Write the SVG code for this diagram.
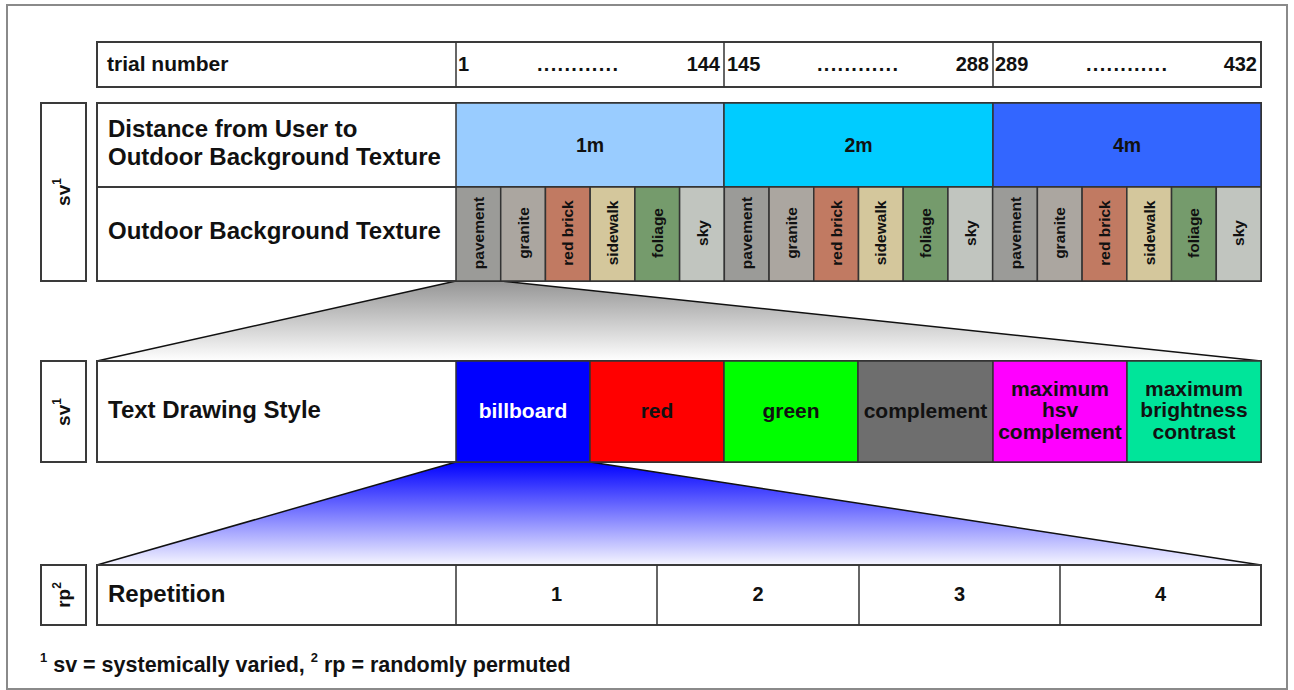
<svg xmlns="http://www.w3.org/2000/svg" width="1294" height="690" viewBox="0 0 1294 690">
<defs>
<linearGradient id="gGray" gradientUnits="userSpaceOnUse" x1="0" y1="281" x2="0" y2="361">
<stop offset="0" stop-color="#959595"/><stop offset="1" stop-color="#ffffff"/>
</linearGradient>
<linearGradient id="gBlue" gradientUnits="userSpaceOnUse" x1="0" y1="462" x2="0" y2="565">
<stop offset="0" stop-color="#0000ff"/><stop offset="1" stop-color="#f6f6ff"/>
</linearGradient>
<style>
text{font-family:"Liberation Sans",Arial,sans-serif;font-weight:bold;fill:#111}
.box{fill:#fff;stroke:#3a3a3a;stroke-width:2}
.cell{stroke:#333;stroke-width:1.5}
.lbl{font-size:24px}
.num{font-size:20px}
.dist{font-size:19.5px;text-anchor:middle}
.tex{font-size:15.5px;text-anchor:middle}
.sty{font-size:21px;text-anchor:middle}
.rep{font-size:20px;text-anchor:middle}
.side{font-size:19px;text-anchor:middle}
.edge{stroke:#111;stroke-width:1.5;fill:none}
</style>
</defs>
<rect x="7" y="5" width="1280" height="684" fill="#fff" stroke="#8a8a8a" stroke-width="2"/>

<g id="connectors">
<polygon points="456,281 501,281 1261,361 97,361" fill="url(#gGray)"/>
<line class="edge" x1="456" y1="281" x2="97" y2="361"/>
<line class="edge" x1="501" y1="281" x2="1261" y2="361"/>
<polygon points="456,462 590,462 1261,565 97,565" fill="url(#gBlue)"/>
<line class="edge" x1="456" y1="462" x2="97" y2="565"/>
<line class="edge" x1="590" y1="462" x2="1261" y2="565"/>
</g>

<g id="trial-row">
<rect class="box" x="97" y="42" width="1164" height="45"/>
<line class="cell" x1="456" y1="42" x2="456" y2="87"/>
<line class="cell" x1="724" y1="42" x2="724" y2="87"/>
<line class="cell" x1="993" y1="42" x2="993" y2="87"/>
<text x="107" y="71" font-size="21">trial number</text>
<text class="num" x="458" y="71">1</text>
<text class="num" x="537" y="71" font-size="18" textLength="81" lengthAdjust="spacing">............</text>
<text class="num" x="720" y="71" text-anchor="end">144</text>
<text class="num" x="727" y="71">145</text>
<text class="num" x="817" y="71" font-size="18" textLength="81" lengthAdjust="spacing">............</text>
<text class="num" x="989" y="71" text-anchor="end">288</text>
<text class="num" x="995" y="71">289</text>
<text class="num" x="1086" y="71" font-size="18" textLength="81" lengthAdjust="spacing">............</text>
<text class="num" x="1257" y="71" text-anchor="end">432</text>
</g>

<g id="sv-1">
<rect class="box" x="41" y="103" width="45" height="178"/>
<text class="side" transform="translate(70,192) rotate(-90)">sv<tspan font-size="12" dy="-9">1</tspan></text>
</g>

<g id="distance-row">
<rect class="box" x="97" y="103" width="1164" height="84"/>
<rect class="cell" x="456" y="103" width="268" height="84" fill="#99ccff"/>
<rect class="cell" x="724" y="103" width="269" height="84" fill="#00ccff"/>
<rect class="cell" x="993" y="103" width="268" height="84" fill="#3366ff"/>
<text class="lbl" x="108" y="137">Distance from User to</text>
<text class="lbl" x="108" y="165">Outdoor Background Texture</text>
<text class="dist" x="590" y="152">1m</text>
<text class="dist" x="858.5" y="152">2m</text>
<text class="dist" x="1127" y="152">4m</text>
</g>

<g id="texture-row">
<rect class="box" x="97" y="187" width="1164" height="94"/>
<text class="lbl" x="108" y="239">Outdoor Background Texture</text>
<g id="tex-1m">
<rect class="cell" x="456" y="187" width="44.72" height="94" fill="#9b9b98"/>
<rect class="cell" x="500.72" y="187" width="44.72" height="94" fill="#aba6a0"/>
<rect class="cell" x="545.44" y="187" width="44.72" height="94" fill="#c17a62"/>
<rect class="cell" x="590.17" y="187" width="44.72" height="94" fill="#d4c79c"/>
<rect class="cell" x="634.89" y="187" width="44.72" height="94" fill="#759b6c"/>
<rect class="cell" x="679.61" y="187" width="44.72" height="94" fill="#c1c5bf"/>
</g>
<g id="tex-2m">
<rect class="cell" x="724.33" y="187" width="44.72" height="94" fill="#9b9b98"/>
<rect class="cell" x="769.06" y="187" width="44.72" height="94" fill="#aba6a0"/>
<rect class="cell" x="813.78" y="187" width="44.72" height="94" fill="#c17a62"/>
<rect class="cell" x="858.5" y="187" width="44.72" height="94" fill="#d4c79c"/>
<rect class="cell" x="903.22" y="187" width="44.72" height="94" fill="#759b6c"/>
<rect class="cell" x="947.94" y="187" width="44.72" height="94" fill="#c1c5bf"/>
</g>
<g id="tex-4m">
<rect class="cell" x="992.67" y="187" width="44.72" height="94" fill="#9b9b98"/>
<rect class="cell" x="1037.39" y="187" width="44.72" height="94" fill="#aba6a0"/>
<rect class="cell" x="1082.11" y="187" width="44.72" height="94" fill="#c17a62"/>
<rect class="cell" x="1126.83" y="187" width="44.72" height="94" fill="#d4c79c"/>
<rect class="cell" x="1171.56" y="187" width="44.72" height="94" fill="#759b6c"/>
<rect class="cell" x="1216.28" y="187" width="44.72" height="94" fill="#c1c5bf"/>
</g>
<text class="tex" transform="translate(483.9,233) rotate(-90)">pavement</text>
<text class="tex" transform="translate(528.6,233) rotate(-90)">granite</text>
<text class="tex" transform="translate(573.3,233) rotate(-90)">red brick</text>
<text class="tex" transform="translate(618.0,233) rotate(-90)">sidewalk</text>
<text class="tex" transform="translate(662.8,233) rotate(-90)">foliage</text>
<text class="tex" transform="translate(707.5,233) rotate(-90)">sky</text>
<text class="tex" transform="translate(752.2,233) rotate(-90)">pavement</text>
<text class="tex" transform="translate(796.9,233) rotate(-90)">granite</text>
<text class="tex" transform="translate(841.6,233) rotate(-90)">red brick</text>
<text class="tex" transform="translate(886.4,233) rotate(-90)">sidewalk</text>
<text class="tex" transform="translate(931.1,233) rotate(-90)">foliage</text>
<text class="tex" transform="translate(975.8,233) rotate(-90)">sky</text>
<text class="tex" transform="translate(1020.5,233) rotate(-90)">pavement</text>
<text class="tex" transform="translate(1065.3,233) rotate(-90)">granite</text>
<text class="tex" transform="translate(1110.0,233) rotate(-90)">red brick</text>
<text class="tex" transform="translate(1154.7,233) rotate(-90)">sidewalk</text>
<text class="tex" transform="translate(1199.4,233) rotate(-90)">foliage</text>
<text class="tex" transform="translate(1244.1,233) rotate(-90)">sky</text>
</g>

<g id="sv-2">
<rect class="box" x="41" y="361" width="45" height="101"/>
<text class="side" transform="translate(70,412) rotate(-90)">sv<tspan font-size="12" dy="-9">1</tspan></text>
</g>

<g id="style-row">
<rect class="box" x="97" y="361" width="1164" height="101"/>
<text class="lbl" x="108" y="418">Text Drawing Style</text>
<rect class="cell" x="456" y="361" width="134" height="101" fill="#0000ff"/>
<rect class="cell" x="590" y="361" width="134" height="101" fill="#ff0000"/>
<rect class="cell" x="724" y="361" width="134" height="101" fill="#00ff00"/>
<rect class="cell" x="858" y="361" width="135" height="101" fill="#6e6e6e"/>
<rect class="cell" x="993" y="361" width="134" height="101" fill="#ff00ff"/>
<rect class="cell" x="1127" y="361" width="134" height="101" fill="#00e59a"/>
<text class="sty" x="523" y="418" style="fill:#fff">billboard</text>
<text class="sty" x="657" y="418">red</text>
<text class="sty" x="791" y="418">green</text>
<text class="sty" x="925.5" y="418">complement</text>
<text class="sty" x="1060" y="395.5">maximum</text>
<text class="sty" x="1060" y="417">hsv</text>
<text class="sty" x="1060" y="438.5">complement</text>
<text class="sty" x="1194" y="395.5">maximum</text>
<text class="sty" x="1194" y="417">brightness</text>
<text class="sty" x="1194" y="438.5">contrast</text>
</g>

<g id="rp">
<rect class="box" x="41" y="565" width="45" height="60"/>
<text class="side" transform="translate(70,595) rotate(-90)">rp<tspan font-size="12" dy="-9">2</tspan></text>
</g>

<g id="repetition-row">
<rect class="box" x="97" y="565" width="1164" height="60"/>
<line class="cell" x1="456" y1="565" x2="456" y2="625"/>
<line class="cell" x1="657" y1="565" x2="657" y2="625"/>
<line class="cell" x1="859" y1="565" x2="859" y2="625"/>
<line class="cell" x1="1060" y1="565" x2="1060" y2="625"/>
<text class="lbl" x="108" y="602">Repetition</text>
<text class="rep" x="556.5" y="601">1</text>
<text class="rep" x="758" y="601">2</text>
<text class="rep" x="959.5" y="601">3</text>
<text class="rep" x="1160.5" y="601">4</text>
</g>

<g id="footnote">
<text x="40" y="672" font-size="21.5"><tspan font-size="13" dy="-10">1</tspan><tspan dy="10"> sv = systemically varied, </tspan><tspan font-size="13" dy="-10">2</tspan><tspan dy="10"> rp = randomly permuted</tspan></text>
</g>
</svg>
